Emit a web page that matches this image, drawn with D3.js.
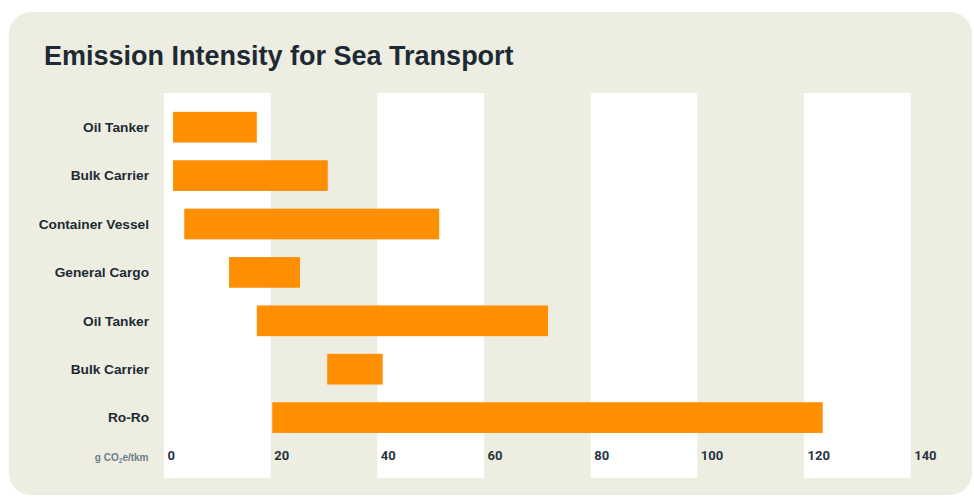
<!DOCTYPE html>
<html><head><meta charset="utf-8">
<script src="https://cdn.jsdelivr.net/npm/d3@7"></script>
<style>
html,body{margin:0;padding:0;background:#fff;}
svg{display:block;}
</style></head>
<body>
<svg id="chart" width="974" height="497"></svg>
<script>
const title = "Emission Intensity for Sea Transport";
const categories = ["Oil Tanker","Bulk Carrier","Container Vessel","General Cargo","Oil Tanker","Bulk Carrier","Ro-Ro"];
const minValues = [1.7, 1.7, 3.8, 12.2, 17.4, 30.6, 20.3];
const maxValues = [17.4, 30.7, 51.6, 25.5, 72.0, 41.0, 123.5];
const tickValues = [0, 20, 40, 60, 80, 100, 120, 140];
const unitLabel = ["g CO", "2", "e/tkm"];

const svg = d3.select("#chart");
const bg = "#edede2";
const dark = "#1d2a33";

svg.append("rect").attr("x", 9).attr("y", 12).attr("width", 963).attr("height", 483)
  .attr("rx", 22).attr("fill", bg);

svg.append("text").attr("x", 44).attr("y", 65)
  .attr("font-family", "'Liberation Sans', Arial, sans-serif")
  .attr("font-weight", "bold").attr("font-size", 27).attr("fill", dark)
  .text(title);

const x = d3.scaleLinear().domain([0, 140]).range([164, 910.7]);
const bandW = x(20) - x(0);
const plotTop = 93, plotBottom = 478;

// alternating white bands
svg.append("g").selectAll("rect").data(tickValues.filter((d, i) => i % 2 === 0 && d < 140))
  .join("rect")
  .attr("x", d => x(d)).attr("y", plotTop).attr("width", bandW).attr("height", plotBottom - plotTop)
  .attr("fill", "#ffffff");

const rows = categories.map((c, i) => ({c, i, lo: minValues[i], hi: maxValues[i]}));
const y = d3.scaleBand().domain(d3.range(categories.length)).range([103, 441.8])
  .paddingInner(0.366).paddingOuter(0.183);

svg.append("g").selectAll("rect").data(rows).join("rect")
  .attr("x", d => x(d.lo)).attr("y", d => y(d.i))
  .attr("width", d => x(d.hi) - x(d.lo)).attr("height", y.bandwidth())
  .attr("fill", "#ff8f00");

svg.append("g").selectAll("text").data(rows).join("text")
  .attr("x", 149).attr("y", d => y(d.i) + y.bandwidth() / 2)
  .attr("dy", "0.35em").attr("text-anchor", "end")
  .attr("font-family", "'Liberation Sans', Arial, sans-serif")
  .attr("font-weight", "bold").attr("font-size", 13.7).attr("fill", dark)
  .text(d => d.c);

// x axis labels
const axis = d3.axisBottom(x).tickValues(tickValues).tickSize(0).tickPadding(0).tickFormat(d3.format("d"));
const ax = svg.append("g").attr("transform", "translate(0,451)").call(axis);
ax.select(".domain").remove();
ax.selectAll("text")
  .attr("text-anchor", "start").attr("dx", 3).attr("dy", "0.7em")
  .attr("font-family", "Roboto, 'DejaVu Sans Condensed', sans-serif")
  .attr("font-weight", "bold").attr("font-size", 13).attr("fill", "#26343f");

const ut = svg.append("text").attr("x", 148.5).attr("y", 460.5).attr("text-anchor", "end")
  .attr("font-family", "'Liberation Sans', Arial, sans-serif")
  .attr("font-weight", "bold").attr("font-size", 10).attr("fill", "#6e7e8b");
ut.append("tspan").text(unitLabel[0]);
ut.append("tspan").attr("font-size", 6.5).attr("dy", 2.5).text(unitLabel[1]);
ut.append("tspan").attr("dy", -2.5).text(unitLabel[2]);
</script>
</body></html>
